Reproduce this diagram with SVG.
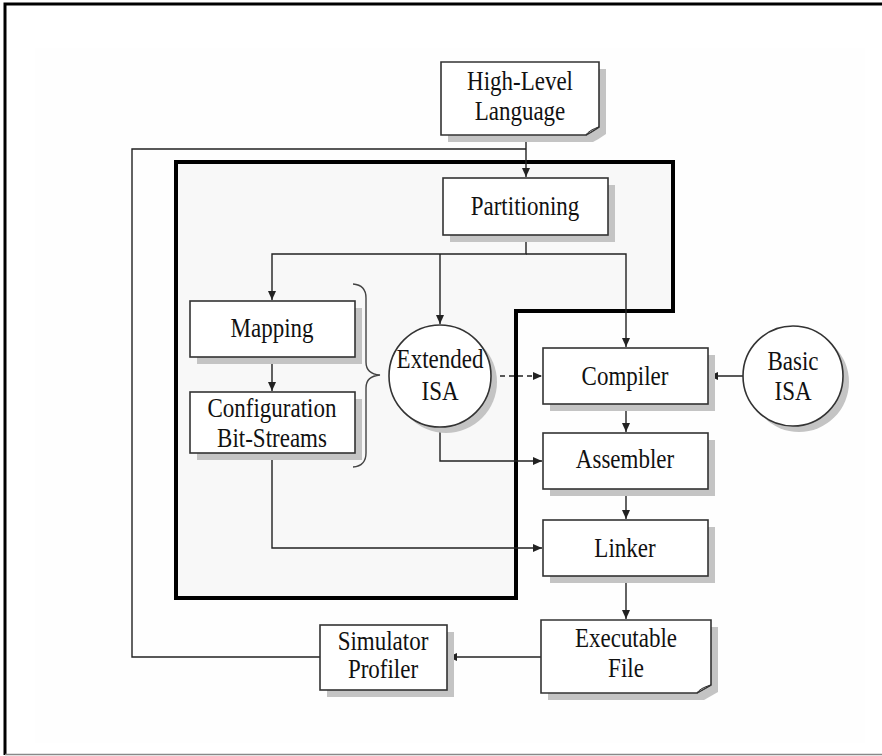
<svg xmlns="http://www.w3.org/2000/svg" width="882" height="756" viewBox="0 0 882 756">
<defs>
<marker id="ah" markerWidth="10" markerHeight="8" refX="9" refY="4" orient="auto" markerUnits="userSpaceOnUse">
<path d="M0,0 L9,4 L0,8 Z" fill="#222"/>
</marker>
<style>
.box{fill:#fff;stroke:#333;stroke-width:1.6}
.sh{fill:#c4c4c4}
.t{font-family:'Liberation Serif','Times New Roman','DejaVu Serif',serif;font-size:23px;fill:#111;text-anchor:middle}
.ln{fill:none;stroke:#222;stroke-width:1.4}
.dash{fill:none;stroke:#222;stroke-width:1.4;stroke-dasharray:5,4}
</style>
</defs>
<rect x="0" y="0" width="882" height="756" fill="#fff"/>
<rect x="35" y="48" width="830" height="695" fill="#fefefe"/>
<path d="M5,755 V4 H882" fill="none" stroke="#000" stroke-width="3"/>
<path d="M5,754.5 H882" fill="none" stroke="#888" stroke-width="1.5"/>

<g id="region">
<path d="M176,162 H673 V311 H516 V598 H176 Z" fill="#f8f8f8" stroke="#000" stroke-width="4"/>
</g>

<g id="connectors">
<path class="ln" d="M320,657 H132 V149 H526"/>
<path class="ln" d="M526,135 V177" marker-end="url(#ah)"/>
<path class="ln" d="M526,235 V254 H272 V300" marker-end="url(#ah)"/>
<path class="ln" d="M440,254 V324" marker-end="url(#ah)"/>
<path class="ln" d="M526,254 H626 V347" marker-end="url(#ah)"/>
<path class="ln" d="M272,357 V391" marker-end="url(#ah)"/>
<path class="dash" d="M491,376 H542" marker-end="url(#ah)"/>
<path class="ln" d="M743,376 H709" marker-end="url(#ah)"/>
<path class="ln" d="M626,404 V432" marker-end="url(#ah)"/>
<path class="ln" d="M440,427 V461 H542" marker-end="url(#ah)"/>
<path class="ln" d="M626,489 V519" marker-end="url(#ah)"/>
<path class="ln" d="M272,453 V548 H542" marker-end="url(#ah)"/>
<path class="ln" d="M626,576 V619" marker-end="url(#ah)"/>
<path class="ln" d="M541,657 H448" marker-end="url(#ah)"/>
<path d="M353,284 Q366,285 366,298 V362 Q366,374 380,375 Q366,376 366,388 V453 Q366,466 353,467" fill="none" stroke="#444" stroke-width="1.4"/>
</g>

<g id="hll">
<path class="sh" d="M448,69 H606 V134 Q599,139 593,142 H448 Z"/>
<path class="box" d="M441,62 H599 V127 Q593,131 586,135 H441 Z"/>
<path d="M599,127 Q593,131 586,135 Q589,130 599,127 Z" fill="#bbb" stroke="#333" stroke-width="1"/>
<text class="t" transform="translate(520,90) scale(1,1.18)">High-Level</text>
<text class="t" transform="translate(520,120) scale(1,1.18)">Language</text>
</g>

<g id="partitioning">
<rect class="sh" x="450" y="185" width="165" height="57"/>
<rect class="box" x="443" y="178" width="165" height="57"/>
<text class="t" transform="translate(525,215) scale(1,1.18)">Partitioning</text>
</g>

<g id="mapping">
<rect class="sh" x="197" y="308" width="165" height="56"/>
<rect class="box" x="190" y="301" width="165" height="56"/>
<text class="t" transform="translate(272,337) scale(1,1.18)">Mapping</text>
</g>

<g id="config">
<rect class="sh" x="197" y="399" width="165" height="61"/>
<rect class="box" x="190" y="392" width="165" height="61"/>
<text class="t" transform="translate(272,417) scale(1,1.18)">Configuration</text>
<text class="t" transform="translate(272,447) scale(1,1.18)">Bit-Streams</text>
</g>

<g id="extisa">
<circle class="sh" cx="446" cy="382" r="51"/>
<circle class="box" cx="440" cy="376" r="51"/>
<text class="t" transform="translate(440,368) scale(1,1.18)">Extended</text>
<text class="t" transform="translate(440,400) scale(1,1.18)">ISA</text>
</g>

<g id="compiler">
<rect class="sh" x="550" y="355" width="165" height="56"/>
<rect class="box" x="543" y="348" width="165" height="56"/>
<text class="t" transform="translate(625,385) scale(1,1.18)">Compiler</text>
</g>

<g id="basicisa">
<circle class="sh" cx="799" cy="382" r="50"/>
<circle class="box" cx="793" cy="376" r="50"/>
<text class="t" transform="translate(793,370) scale(1,1.18)">Basic</text>
<text class="t" transform="translate(793,400) scale(1,1.18)">ISA</text>
</g>

<g id="assembler">
<rect class="sh" x="550" y="440" width="165" height="56"/>
<rect class="box" x="543" y="433" width="165" height="56"/>
<text class="t" transform="translate(625,468) scale(1,1.18)">Assembler</text>
</g>

<g id="linker">
<rect class="sh" x="550" y="527" width="165" height="56"/>
<rect class="box" x="543" y="520" width="165" height="56"/>
<text class="t" transform="translate(625,557) scale(1,1.18)">Linker</text>
</g>

<g id="executable">
<path class="sh" d="M548,627 H718 V692 Q711,696 704,700 H548 Z"/>
<path class="box" d="M541,620 H711 V685 Q704,689 697,693 H541 Z"/>
<path d="M711,685 Q704,689 697,693 Q700,688 711,685 Z" fill="#bbb" stroke="#333" stroke-width="1"/>
<text class="t" transform="translate(626,647) scale(1,1.18)">Executable</text>
<text class="t" transform="translate(626,677) scale(1,1.18)">File</text>
</g>

<g id="simulator">
<rect class="sh" x="327" y="632" width="127" height="65"/>
<rect class="box" x="320" y="625" width="127" height="65"/>
<text class="t" transform="translate(383,650) scale(1,1.18)">Simulator</text>
<text class="t" transform="translate(383,678) scale(1,1.18)">Profiler</text>
</g>
</svg>
